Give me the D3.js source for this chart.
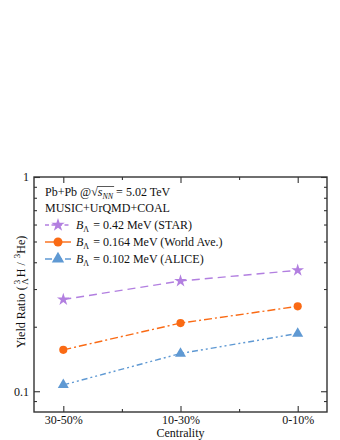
<!DOCTYPE html>
<html>
<head>
<meta charset="utf-8">
<script src="https://cdn.jsdelivr.net/npm/d3@7"></script>
<style>
  html, body { margin: 0; padding: 0; background: #fff; }
  text { font-family: "Liberation Serif", "Times New Roman", serif; fill: #111; }
</style>
</head>
<body>
<div id="chart"></div>
<script>
// data
const centralities = ["30-50%", "10-30%", "0-10%"];
const starRatio = [0.268, 0.327, 0.367];
const worldRatio = [0.156, 0.208, 0.249];
const aliceRatio = [0.107, 0.150, 0.186];
const bLambda = ["0.42", "0.164", "0.102"];
const bSource = ["STAR", "World Ave.", "ALICE"];
const yTicks = [0.1, 1];
const yMinor = [0.09, 0.2, 0.3, 0.4, 0.5, 0.6, 0.7, 0.8, 0.9];

const width = 340;
const height = 440;
const margin = { top: 177, right: 13, bottom: 28, left: 34 };
const serif = '"Liberation Serif", "Times New Roman", serif';

const svg = d3
  .select("#chart")
  .append("svg")
  .attr("width", width)
  .attr("height", height);

const x = d3
  .scaleLinear()
  .domain([-0.25, 2.25])
  .range([margin.left, width - margin.right]);

const y = d3
  .scaleLog()
  .domain([0.08, 1])
  .range([height - margin.bottom, margin.top]);

const series = [
  { vals: starRatio, color: "#b27fe0", dash: "8,5", legDash: "4,2.5", sym: d3.symbolStar, size: 50, lsize: 56 },
  { vals: worldRatio, color: "#fa6a14", dash: "8,3,2,3", legDash: null, sym: d3.symbolCircle, size: 52, lsize: 64 },
  { vals: aliceRatio, color: "#5f99d3", dash: "6,3,2,3,2,3", legDash: "7,3", sym: d3.symbolTriangle, size: 52, lsize: 66 }
];

// lines and markers
const line = d3
  .line()
  .x((d, i) => x(i))
  .y(d => y(d));

series.forEach(s => {
  svg
    .append("path")
    .attr("d", line(s.vals))
    .attr("fill", "none")
    .attr("stroke", s.color)
    .attr("stroke-width", 1.4)
    .attr("stroke-dasharray", s.dash);

  svg
    .selectAll(null)
    .data(s.vals)
    .enter()
    .append("path")
    .attr("d", d3.symbol().type(s.sym).size(s.size))
    .attr("transform", (d, i) => `translate(${x(i)},${y(d)})`)
    .attr("fill", s.color);
});

// axes: ticks inward on all four sides
const axisColor = "#333";
const bottom = height - margin.bottom;
const right = width - margin.right;

svg
  .append("g")
  .attr("transform", `translate(0,${bottom})`)
  .call(d3.axisBottom(x).tickValues([0, 1, 2]).tickSizeInner(-6).tickSizeOuter(0).tickPadding(3).tickFormat(i => centralities[i]))
  .call(g => g.attr("font-family", serif).selectAll("text").attr("font-size", 12).attr("fill", "#111"));

svg
  .append("g")
  .attr("transform", `translate(0,${bottom})`)
  .call(d3.axisBottom(x).tickValues([0.5, 1.5]).tickSizeInner(-3).tickSizeOuter(0).tickFormat(""));

svg
  .append("g")
  .attr("transform", `translate(0,${margin.top})`)
  .call(d3.axisTop(x).tickValues([0, 1, 2]).tickSizeInner(-6).tickSizeOuter(0).tickFormat(""));

svg
  .append("g")
  .attr("transform", `translate(0,${margin.top})`)
  .call(d3.axisTop(x).tickValues([0.5, 1.5]).tickSizeInner(-3).tickSizeOuter(0).tickFormat(""));

svg
  .append("g")
  .attr("transform", `translate(${margin.left},0)`)
  .call(d3.axisLeft(y).tickValues(yTicks).tickSizeInner(-6).tickSizeOuter(0).tickPadding(5).tickFormat(d3.format("")))
  .call(g => g.attr("font-family", serif).selectAll("text").attr("font-size", 12).attr("fill", "#111"));

svg
  .append("g")
  .attr("transform", `translate(${margin.left},0)`)
  .call(d3.axisLeft(y).tickValues(yMinor).tickSizeInner(-3).tickSizeOuter(0).tickFormat(""));

svg
  .append("g")
  .attr("transform", `translate(${right},0)`)
  .call(d3.axisRight(y).tickValues(yTicks).tickSizeInner(-6).tickSizeOuter(0).tickFormat(""));

svg
  .append("g")
  .attr("transform", `translate(${right},0)`)
  .call(d3.axisRight(y).tickValues(yMinor).tickSizeInner(-3).tickSizeOuter(0).tickFormat(""));

svg.selectAll(".domain").remove();
svg.selectAll(".tick line").attr("stroke", axisColor).attr("stroke-width", 1.1);

svg
  .append("rect")
  .attr("x", margin.left)
  .attr("y", margin.top)
  .attr("width", right - margin.left)
  .attr("height", bottom - margin.top)
  .attr("fill", "none")
  .attr("stroke", axisColor)
  .attr("stroke-width", 1.4);

// axis titles
svg
  .append("text")
  .attr("x", (margin.left + right) / 2)
  .attr("y", 437)
  .attr("text-anchor", "middle")
  .attr("font-size", 12)
  .text("Centrality");

const yl = svg
  .append("text")
  .attr("transform", `translate(25,292) rotate(-90)`)
  .attr("text-anchor", "middle")
  .attr("font-size", 12);
yl.append("tspan").text("Yield Ratio (");
yl.append("tspan").attr("font-size", 9).attr("dx", 2).attr("dy", -5).text("3");
yl.append("tspan").attr("font-size", 9).attr("dx", -5).attr("dy", 8).text("Λ");
yl.append("tspan").attr("dx", 1).attr("dy", -3).text("H");
yl.append("tspan").attr("dx", 3).text("/");
yl.append("tspan").attr("font-size", 9).attr("dx", 4).attr("dy", -5).text("3");
yl.append("tspan").attr("dy", 5).text("He)");

// legend
const lx = 45;
const t1 = svg.append("text").attr("x", lx).attr("y", 196).attr("font-size", 12);
t1.append("tspan").text("Pb+Pb @");
const rad = t1.append("tspan").text("√");
t1.append("tspan").attr("font-style", "italic").text("s");
t1.append("tspan").attr("font-style", "italic").attr("font-size", 8).attr("dy", 3).text("NN");
t1.append("tspan").attr("dy", -3).text(" = 5.02 TeV");

// overbar of the square root
const rb = rad.node().getExtentOfChar(0);
const nnEnd = t1.node().getEndPositionOfChar("Pb+Pb @√sNN".length - 1);
svg
  .append("line")
  .attr("x1", rb.x + rb.width - 0.5)
  .attr("x2", nnEnd.x + 1)
  .attr("y1", rb.y + 1.5)
  .attr("y2", rb.y + 1.5)
  .attr("stroke", "#111")
  .attr("stroke-width", 0.7);

svg.append("text").attr("x", lx).attr("y", 212).attr("font-size", 12).text("MUSIC+UrQMD+COAL");

series.forEach((s, i) => {
  const cy = 225 + i * 17;
  svg
    .append("line")
    .attr("x1", lx)
    .attr("x2", lx + 26)
    .attr("y1", cy)
    .attr("y2", cy)
    .attr("stroke", s.color)
    .attr("stroke-width", 1.4)
    .attr("stroke-dasharray", s.legDash);
  svg
    .append("path")
    .attr("d", d3.symbol().type(s.sym).size(s.lsize))
    .attr("transform", `translate(${lx + 13},${cy})`)
    .attr("fill", s.color);
  const t = svg.append("text").attr("x", lx + 31).attr("y", cy + 4).attr("font-size", 12);
  t.append("tspan").attr("font-style", "italic").text("B");
  t.append("tspan").attr("font-size", 8).attr("dy", 3).text("Λ");
  t.append("tspan").attr("dx", 1).attr("dy", -3).text(` = ${bLambda[i]} MeV (${bSource[i]})`);
});
</script>
</body>
</html>
